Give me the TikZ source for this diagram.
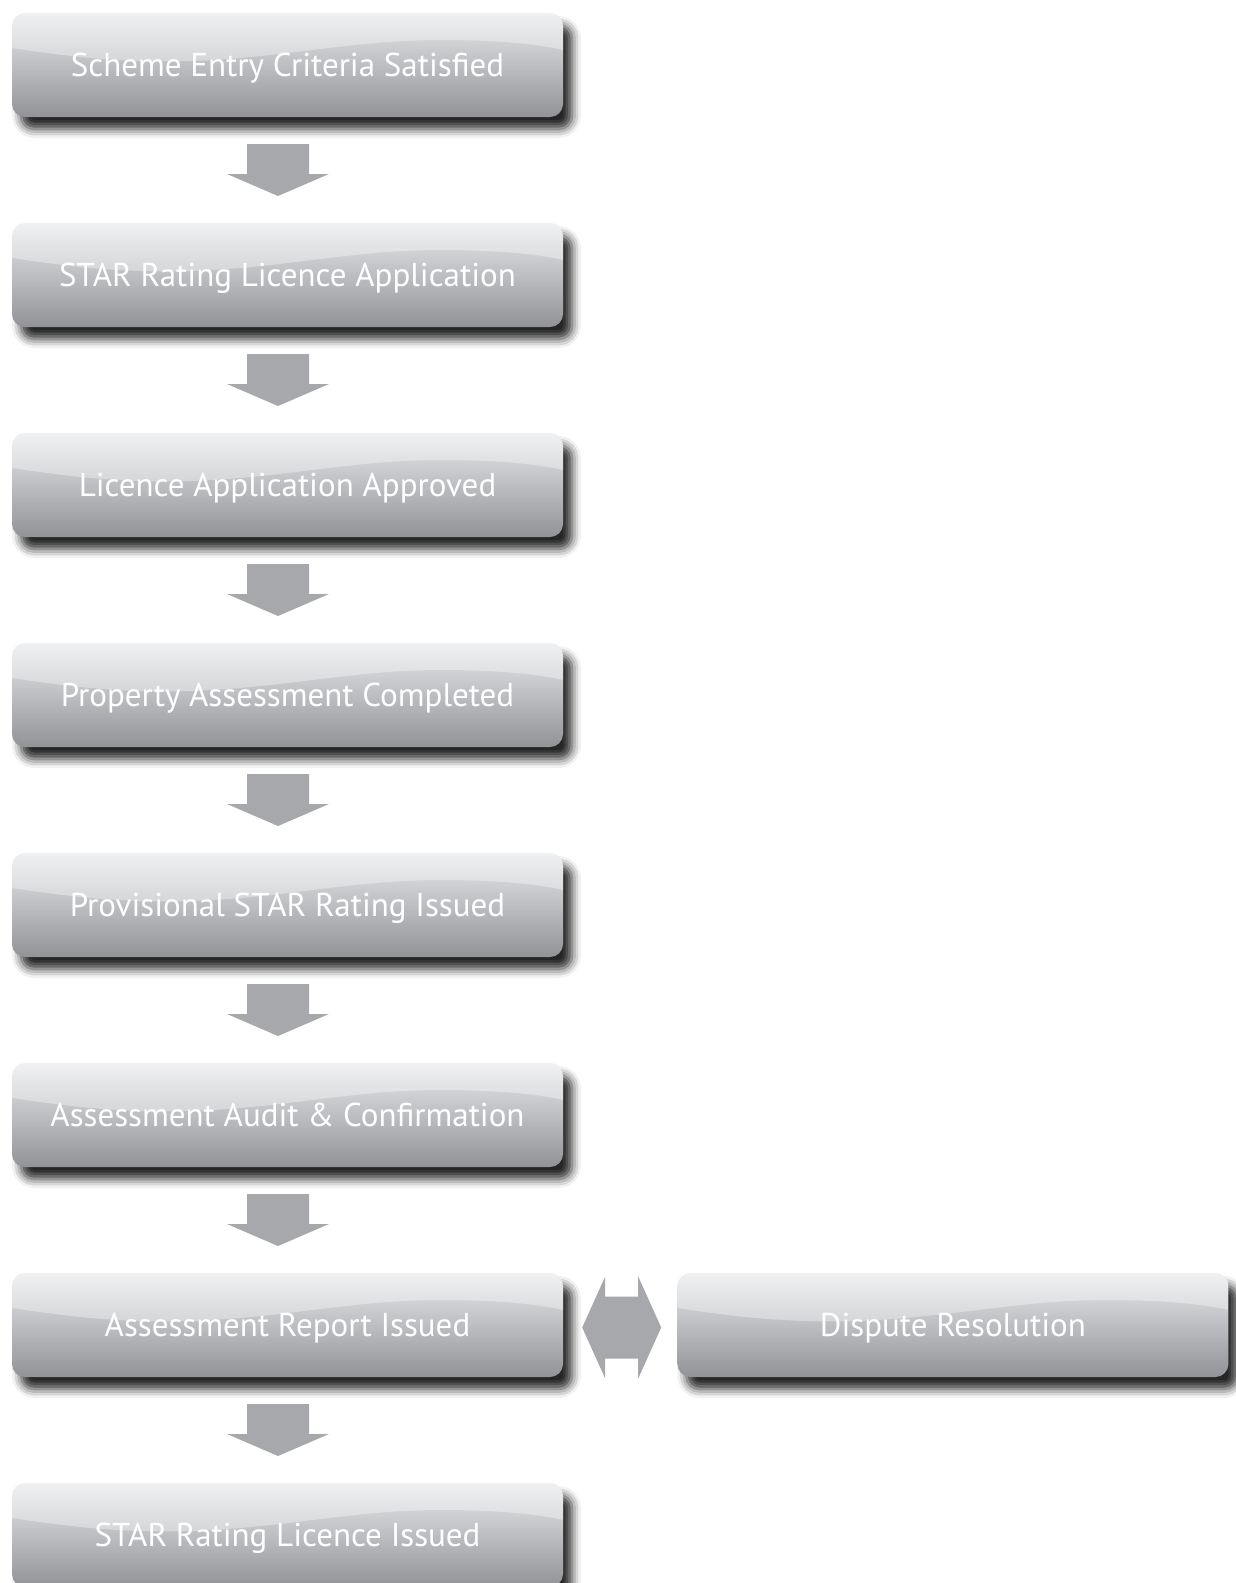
\documentclass[tikz,border=0pt]{standalone}
\usepackage{fontspec}
\setmainfont{PT Sans}
\usetikzlibrary{positioning,calc,shadows.blur}

\definecolor{boxtop}{RGB}{232,233,235}
\definecolor{boxbottom}{RGB}{145,147,151}
\definecolor{arrowgray}{RGB}{167,168,172}

\tikzset{
  stage/.style={rounded corners=13pt, minimum width=551pt, minimum height=104pt, inner sep=0pt,
    text depth=0pt, top color=boxtop, bottom color=boxbottom, text=white,
    font=\fontsize{33}{40}\selectfont,
    blur shadow={shadow xshift=9pt, shadow yshift=-12pt, shadow blur radius=9pt, shadow opacity=85},
    path picture={
      \path (path picture bounding box.north west) coordinate (nw)
            (path picture bounding box.north east) coordinate (ne);
      \fill[white, opacity=0.35, sharp corners]
        (nw) -- ($(nw)+(0pt,-35pt)$)
        .. controls ($(nw)+(60pt,-44pt)$) and ($(nw)+(110pt,-50pt)$) .. ($(nw)+(180pt,-48pt)$)
        .. controls ($(nw)+(280pt,-44pt)$) and ($(nw)+(340pt,-27pt)$) .. ($(nw)+(430pt,-27pt)$)
        .. controls ($(nw)+(490pt,-27pt)$) and ($(ne)+(-20pt,-32pt)$) .. ($(ne)+(0pt,-37pt)$)
        -- (ne) -- cycle;
    }}
}

% block arrow pointing down, between two stages
\newcommand\flowarrow[2]{%
  \path ($(#1.south)!0.5!(#2.north)+(-9.5pt,0pt)$) coordinate (m);
  \fill[arrowgray] ($(m)+(-31pt,26pt)$) -- ++(0pt,-30pt) -- ++(-20pt,0pt)
    -- ($(m)+(0pt,-26pt)$) -- ++(51pt,22pt) -- ++(-20pt,0pt) -- ++(0pt,30pt) -- cycle;
}
% block arrow pointing both ways, between two stages
\newcommand\swaparrow[2]{%
  \path ($(#1.east)!0.5!(#2.west)+(1.5pt,-2.5pt)$) coordinate (m);
  \fill[arrowgray] ($(m)+(-16.5pt,51pt)$) -- ++(0pt,-20pt) -- ++(33pt,0pt) -- ++(0pt,20pt)
    -- ($(m)+(39.5pt,0pt)$) -- ($(m)+(16.5pt,-51pt)$) -- ++(0pt,20pt) -- ++(-33pt,0pt)
    -- ++(0pt,-20pt) -- ($(m)+(-39.5pt,0pt)$) -- cycle;
}

\begin{document}
\begin{tikzpicture}[x=1pt,y=1pt]
  \useasboundingbox (0,0) rectangle (1235,-1583);

  \node[stage] (s1) at (287.5,-65) {Scheme Entry Criteria Satisfied};
  \node[stage, below=105.6pt of s1] (s2) {STAR Rating Licence Application};
  \node[stage, below=105.6pt of s2] (s3) {Licence Application Approved};
  \node[stage, below=105.6pt of s3] (s4) {Property Assessment Completed};
  \node[stage, below=105.6pt of s4] (s5) {Provisional STAR Rating Issued};
  \node[stage, below=105.6pt of s5] (s6) {Assessment Audit \& Confirmation};
  \node[stage, below=105.6pt of s6] (s7) {Assessment Report Issued};
  \node[stage, below=105.6pt of s7] (s8) {STAR Rating Licence Issued};
  \node[stage, right=114pt of s7] (dispute) {Dispute Resolution};

  \foreach \a/\b in {s1/s2,s2/s3,s3/s4,s4/s5,s5/s6,s6/s7,s7/s8}
    {\flowarrow{\a}{\b}}
  \swaparrow{s7}{dispute}
\end{tikzpicture}
\end{document}
